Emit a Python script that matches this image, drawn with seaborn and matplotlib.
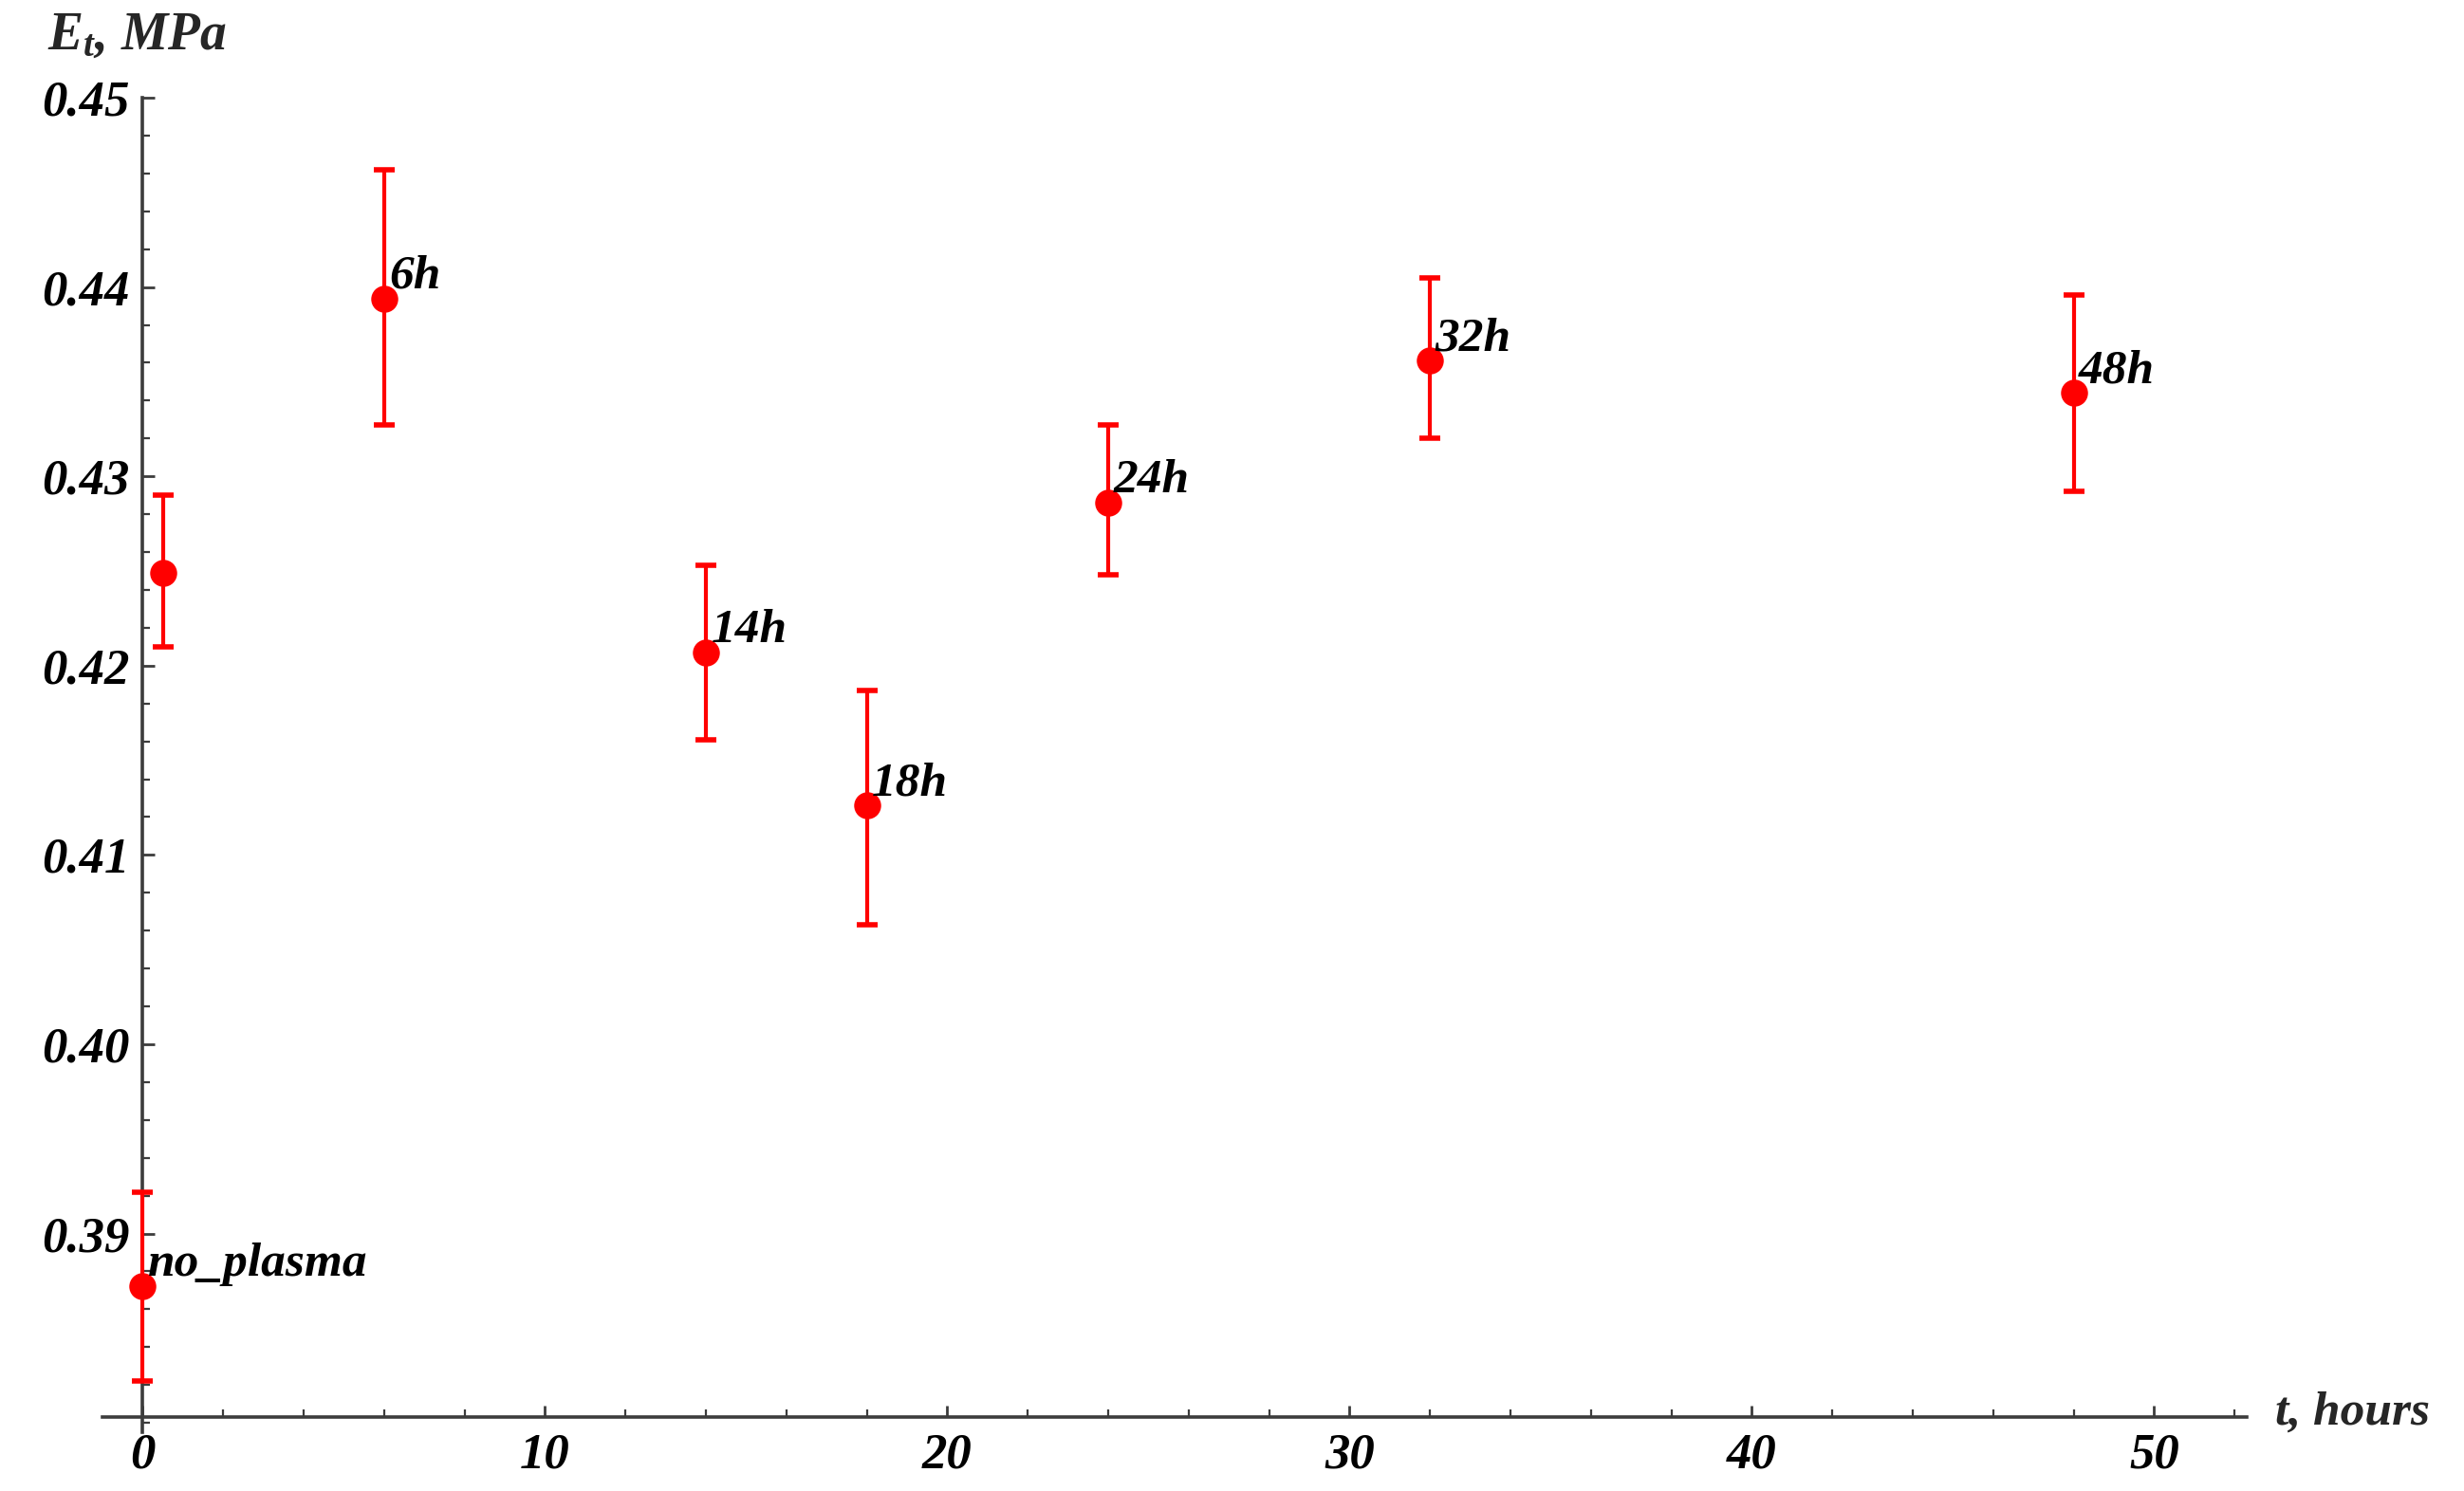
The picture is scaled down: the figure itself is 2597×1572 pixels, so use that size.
import matplotlib
matplotlib.use("Agg")
import matplotlib.pyplot as plt
import seaborn as sns
import pandas as pd
from matplotlib.ticker import MultipleLocator, FormatStrFormatter

# Data
hours = [0, 0.5, 6, 14, 18, 24, 32, 48]
modulus = [0.3872, 0.4249, 0.4394, 0.4207, 0.4126, 0.4286, 0.4361, 0.4344]
err_up = [0.0050, 0.0041, 0.0068, 0.0046, 0.0061, 0.0041, 0.0044, 0.0052]
err_down = [0.0050, 0.0039, 0.0067, 0.0046, 0.0063, 0.0038, 0.0041, 0.0052]
point_labels = ["no_plasma", "", "6h", "14h", "18h", "24h", "32h", "48h"]

x_ticks = [0, 10, 20, 30, 40, 50]
y_ticks = [0.39, 0.40, 0.41, 0.42, 0.43, 0.44, 0.45]

df = pd.DataFrame({"t": hours, "E": modulus})

sns.set_style("white")
plt.rcParams['font.family'] = ['Liberation Serif', 'DejaVu Serif']
plt.rcParams['font.style'] = 'italic'
plt.rcParams['font.weight'] = 'bold'
plt.rcParams['mathtext.fontset'] = 'custom'
plt.rcParams['mathtext.it'] = 'Liberation Serif:bold:italic'
plt.rcParams['mathtext.rm'] = 'Liberation Serif:bold:italic'

fig = plt.figure(figsize=(25.97, 15.72), dpi=100)
ax = fig.add_axes([0.0416, 0.0394, 0.8702, 0.8976])

red = "#ff0000"
axis_col = "#3c3c3c"

# error bars
ax.errorbar(df["t"], df["E"], yerr=[err_down, err_up], fmt="none",
            ecolor=red, elinewidth=3, capsize=8, capthick=4, zorder=3)
sns.scatterplot(data=df, x="t", y="E", ax=ax, color=red, s=420,
                edgecolor=red, linewidth=0, zorder=4, legend=False)

for xv, yv, lab in zip(hours, modulus, point_labels):
    if lab:
        ax.annotate(lab, (xv, yv), xytext=(4, 8), textcoords="offset points",
                    ha="left", va="baseline", fontsize=37,
                    fontstyle="italic", fontweight="bold", color="black", zorder=5)

ax.set_xlim(-1.0, 52.3)
ax.set_ylim(0.3795, 0.4502)

# Mathematica-like axes crossing at data positions
for s in ["top", "right"]:
    ax.spines[s].set_visible(False)
ax.spines["left"].set_position(("data", 0))
ax.spines["bottom"].set_position(("data", 0.3803))
for s in ["left", "bottom"]:
    ax.spines[s].set_color(axis_col)
    ax.spines[s].set_linewidth(2.6)
ax.spines["left"].set_bounds(0.3795, 0.45)

ax.set_xticks(x_ticks)
ax.set_yticks(y_ticks)
ax.xaxis.set_minor_locator(MultipleLocator(2))
ax.yaxis.set_minor_locator(MultipleLocator(0.002))
ax.yaxis.set_major_formatter(FormatStrFormatter("%.2f"))
ax.tick_params(which="both", bottom=True, left=True, top=False, right=False)
ax.tick_params(which="major", direction="in", length=9, width=2, color=axis_col,
               labelsize=38, labelcolor="black")
ax.tick_params(which="minor", direction="in", length=6, width=1.6, color=axis_col)
ax.tick_params(axis="y", which="major", pad=10)
ax.tick_params(axis="x", which="major", pad=12)
for lbl in ax.get_xticklabels() + ax.get_yticklabels():
    lbl.set_fontstyle("italic")
    lbl.set_fontweight("bold")

ax.set_xlabel("")
ax.set_ylabel("")
ax.grid(False)

fig.text(50 / 2597, 1 - 38 / 1572, r"$E_t$, MPa", fontsize=40,
         fontstyle="italic", fontweight="bold", ha="left", va="center")
fig.text(2398 / 2597, 1 - 1490 / 1572, "t, hours", fontsize=37,
         fontstyle="italic", fontweight="bold", ha="left", va="center")

fig.savefig("out.png", dpi=100, facecolor="white")
